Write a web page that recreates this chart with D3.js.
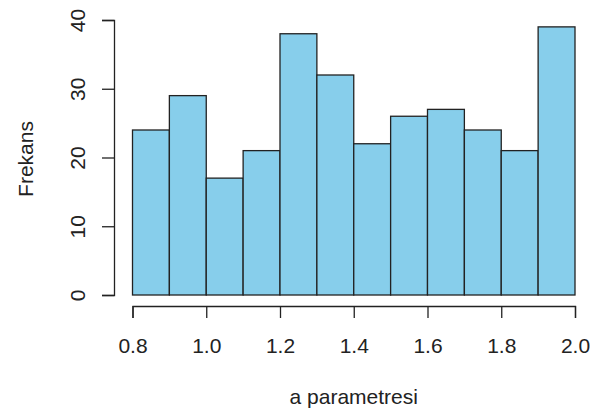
<!DOCTYPE html>
<html>
<head>
<meta charset="utf-8">
<script src="https://cdn.jsdelivr.net/npm/d3@7"></script>
<style>
  body { margin: 0; background: #fff; }
  text { font-family: "Liberation Sans", Arial, sans-serif; fill: #222; }
</style>
</head>
<body>
<div id="chart"></div>
<script>
// histogram bins (0.1 wide) and counts
const binStarts = [0.8, 0.9, 1.0, 1.1, 1.2, 1.3, 1.4, 1.5, 1.6, 1.7, 1.8, 1.9];
const counts = [24, 29, 17, 21, 38, 32, 22, 26, 27, 24, 21, 39];
const xTicks = [0.8, 1.0, 1.2, 1.4, 1.6, 1.8, 2.0];
const yTicks = [0, 10, 20, 30, 40];

const width = 593, height = 418;
const fs = "21px";

const svg = d3.select("#chart")
  .append("svg")
  .attr("width", width)
  .attr("height", height);

const x = d3.scaleLinear().domain([0.8, 2.0]).range([132.5, 575]);
const y = d3.scaleLinear().domain([0, 40]).range([295, 20]);

// bars
svg.append("g")
  .selectAll("rect")
  .data(binStarts)
  .join("rect")
  .attr("x", (d) => x(d))
  .attr("y", (d, i) => y(counts[i]))
  .attr("width", (d) => x(d + 0.1) - x(d))
  .attr("height", (d, i) => y(0) - y(counts[i]))
  .attr("fill", "#87CEEB")
  .attr("stroke", "#222")
  .attr("stroke-width", 1.3);

// x axis
const xAxis = svg.append("g")
  .attr("transform", "translate(0,306)")
  .call(d3.axisBottom(x).tickValues(xTicks).tickFormat(d3.format(".1f")).tickSize(12));
xAxis.select(".domain").attr("stroke", "#222").attr("stroke-width", 1.3);
xAxis.selectAll(".tick line").attr("stroke", "#222").attr("stroke-width", 1.3);
xAxis.selectAll("text")
  .style("font-size", fs)
  .attr("fill", "#222")
  .attr("y", 47)
  .attr("dy", null);

// y axis
const yAxis = svg.append("g")
  .attr("transform", "translate(114,0)")
  .call(d3.axisLeft(y).tickValues(yTicks).tickSize(12));
yAxis.select(".domain").attr("stroke", "#222").attr("stroke-width", 1.3);
yAxis.selectAll(".tick line").attr("stroke", "#222").attr("stroke-width", 1.3);
yAxis.selectAll("text")
  .style("font-size", fs)
  .attr("fill", "#222")
  .attr("x", null)
  .attr("dy", null)
  .attr("text-anchor", "middle")
  .attr("transform", "translate(-29,0) rotate(-90)");

// axis titles
svg.append("text")
  .attr("x", (132.5 + 575) / 2)
  .attr("y", 404)
  .attr("text-anchor", "middle")
  .style("font-size", fs)
  .text("a parametresi");

svg.append("text")
  .attr("transform", "translate(33,159) rotate(-90)")
  .attr("text-anchor", "middle")
  .style("font-size", fs)
  .text("Frekans");
</script>
</body>
</html>
